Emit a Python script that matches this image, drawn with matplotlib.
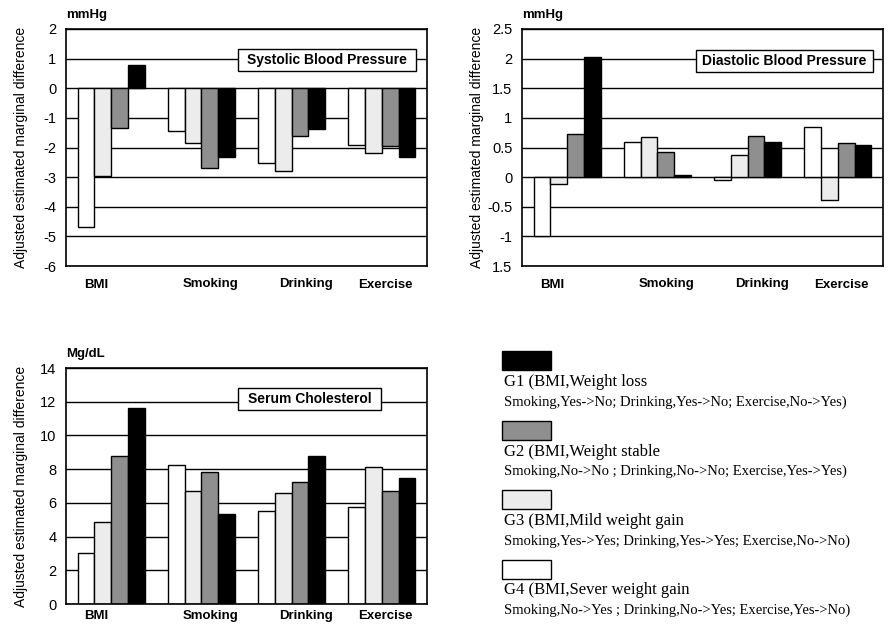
import matplotlib
matplotlib.use('Agg')
import matplotlib.pyplot as plt
from matplotlib.patches import Rectangle
import numpy as np

plt.rcParams['font.family'] = ['Liberation Sans', 'DejaVu Sans']

# data (bar order in each group: G4, G3, G2, G1)
categories = ['BMI', 'Smoking', 'Drinking', 'Exercise']
label_shift = [-0.17, 0.10, 0.16, 0.04]
groups = ['G4', 'G3', 'G2', 'G1']
colors = ['white', '#ececec', '#8f8f8f', 'black']

sbp = {'G4': [-4.70, -1.43, -2.54, -1.92],
       'G3': [-2.97, -1.85, -2.80, -2.20],
       'G2': [-1.35, -2.69, -1.60, -1.95],
       'G1': [0.79, -2.32, -1.38, -2.33]}
dbp = {'G4': [-0.99, 0.585, -0.05, 0.85],
       'G3': [-0.11, 0.67, 0.375, -0.39],
       'G2': [0.72, 0.42, 0.70, 0.575],
       'G1': [2.03, 0.03, 0.60, 0.545]}
chol = {'G4': [3.05, 8.27, 5.50, 5.75],
        'G3': [4.85, 6.70, 6.60, 8.12],
        'G2': [8.76, 7.86, 7.24, 6.70],
        'G1': [11.60, 5.33, 8.80, 7.45]}

sbp_ticks = [2, 1, 0, -1, -2, -3, -4, -5, -6]
dbp_ticks = [2.5, 2, 1.5, 1, 0.5, 0, -0.5, -1, -1.5]
dbp_ticklabels = ['2.5', '2', '1.5', '1', '0.5', '0', '-0.5', '-1', '1.5']
chol_ticks = [0, 2, 4, 6, 8, 10, 12, 14]

legend_main = ['G1 (BMI,Weight loss', 'G2 (BMI,Weight stable',
               'G3 (BMI,Mild weight gain', 'G4 (BMI,Sever weight gain']
legend_sub = ['Smoking,Yes->No; Drinking,Yes->No; Exercise,No->Yes)',
              'Smoking,No->No ; Drinking,No->No; Exercise,Yes->Yes)',
              'Smoking,Yes->Yes; Drinking,Yes->Yes; Exercise,No->No)',
              'Smoking,No->Yes ; Drinking,No->Yes; Exercise,Yes->No)']
legend_colors = ['black', '#8f8f8f', '#ececec', 'white']

W, H = 890, 624
fig = plt.figure(figsize=(W / 100, H / 100), dpi=100)


def panel(rect, data, ticks, ticklabels, unit, title, box, xpad=9):
    ax = fig.add_axes(rect)
    x = np.arange(len(categories))
    bw = 0.186
    for i, g in enumerate(groups):
        ax.bar(x + (i - 1.5) * bw, data[g], bw, color=colors[i],
               edgecolor='black', linewidth=1.0, zorder=3)
    ax.set_xlim(-0.5, 3.5)
    ax.set_ylim(min(ticks), max(ticks))
    ax.set_yticks(ticks)
    ax.set_yticklabels(ticklabels, fontsize=10.5)
    for t in ticks:
        ax.axhline(t, color='black', lw=1.0, zorder=1)
    ax.set_xticks(x + np.array(label_shift))
    ax.set_xticklabels(categories, fontsize=9.5, fontweight='bold')
    ax.tick_params(axis='both', length=0)
    ax.tick_params(axis='x', pad=xpad)
    ax.tick_params(axis='y', pad=7)
    for s in ax.spines.values():
        s.set_linewidth(1.2)
        s.set_zorder(5)
    ax.set_ylabel('Adjusted estimated marginal difference', fontsize=10)
    ax.yaxis.set_label_coords(-0.105, 0.5)
    ax.text(0.0, 1.035, unit, transform=ax.transAxes, fontsize=9.5,
            fontweight='bold', ha='left', va='bottom')
    x0, x1, y0, y1 = box
    ax.add_patch(Rectangle((x0, y0), x1 - x0, y1 - y0, transform=ax.transAxes,
                           facecolor='white', edgecolor='black', lw=1.0,
                           zorder=4))
    ax.text((x0 + x1) / 2, (y0 + y1) / 2, title, transform=ax.transAxes,
            fontsize=10, fontweight='bold', ha='center', va='center',
            zorder=6)
    return ax


panel([66 / W, 1 - 266 / H, 361 / W, 237 / H], sbp, sbp_ticks,
      [str(t) for t in sbp_ticks], 'mmHg', 'Systolic Blood Pressure',
      (0.476, 0.970, 0.823, 0.916))
panel([522 / W, 1 - 266 / H, 361 / W, 237 / H], dbp, dbp_ticks,
      dbp_ticklabels, 'mmHg', 'Diastolic Blood Pressure',
      (0.482, 0.972, 0.819, 0.911))
panel([66 / W, 1 - 604 / H, 361 / W, 236 / H], chol, chol_ticks,
      [str(t) for t in chol_ticks], 'Mg/dL', 'Serum Cholesterol',
      (0.476, 0.873, 0.822, 0.915), xpad=4)

# legend
for k in range(4):
    top = 351 + k * 69.5
    fig.patches.append(Rectangle((502 / W, 1 - (top + 19) / H), 49 / W, 19 / H,
                                 transform=fig.transFigure,
                                 facecolor=legend_colors[k],
                                 edgecolor='black', lw=1.0))
    fig.text(504 / W, 1 - (top + 31) / H, legend_main[k], fontsize=12,
             family='Liberation Serif', ha='left', va='center')
    fig.text(504 / W, 1 - (top + 51) / H, legend_sub[k], fontsize=10.5,
             family='Liberation Serif', ha='left', va='center')

fig.savefig('out.png', dpi=100)
